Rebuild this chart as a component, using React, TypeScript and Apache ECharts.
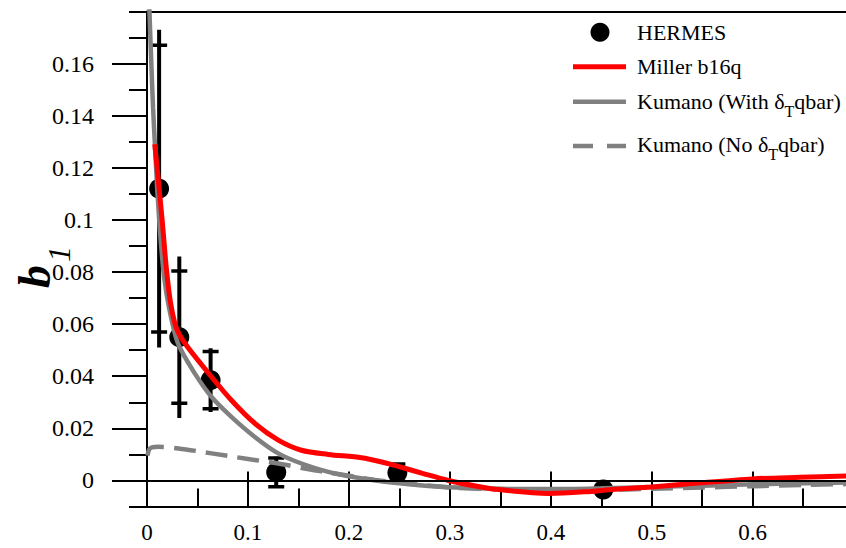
import React, { useEffect, useRef } from 'react';
import * as echarts from 'echarts';

// HERMES data: x, b1, inner (cap) error, total error
const hermesX = [0.012, 0.032, 0.063, 0.128, 0.248, 0.452];
const hermesB1 = [0.112, 0.055, 0.0385, 0.0031, 0.003, -0.0035];
const hermesCapErr = [0.055, 0.0254, 0.011, 0.0055, 0.0033, 0.0015];
const hermesTotalErr = [0.061, 0.031, 0.0122, 0.006, 0.0033, 0.0015];

// Miller b16q
const millerX = [0.0077, 0.01, 0.012, 0.015, 0.019, 0.023, 0.0276, 0.032, 0.0406, 0.0638, 0.0836, 0.1068, 0.13, 0.153, 0.1795, 0.2125, 0.2356, 0.248, 0.273, 0.2985, 0.3267, 0.348, 0.398, 0.44, 0.46, 0.5, 0.54, 0.6, 0.647, 0.6934];
const millerB1 = [0.129, 0.12, 0.112, 0.1, 0.082, 0.069, 0.0602, 0.056, 0.051, 0.0398, 0.0308, 0.0219, 0.0155, 0.0116, 0.01, 0.0087, 0.0068, 0.0055, 0.0027, 0.0, -0.0022, -0.0035, -0.005, -0.0042, -0.0035, -0.0025, -0.0012, 0.0006, 0.0012, 0.0017];

// Kumano (With δT qbar)
const kumanoWithX = [0.002, 0.004, 0.006, 0.0077, 0.01, 0.013, 0.017, 0.022, 0.0307, 0.0473, 0.0638, 0.0836, 0.1068, 0.13, 0.153, 0.1795, 0.2026, 0.2356, 0.27, 0.3, 0.35, 0.4, 0.45, 0.5, 0.55, 0.6, 0.65, 0.6934];
const kumanoWithB1 = [0.185, 0.163, 0.143, 0.13, 0.113, 0.095, 0.078, 0.066, 0.0526, 0.0411, 0.0321, 0.0244, 0.0167, 0.0104, 0.0065, 0.0033, 0.0014, -0.0005, -0.0018, -0.0026, -0.0032, -0.0033, -0.003, -0.0025, -0.002, -0.0015, -0.0011, -0.0008];

// Kumano (No δT qbar)
const kumanoNoX = [0.0005, 0.002, 0.005, 0.011, 0.031, 0.064, 0.097, 0.13, 0.156, 0.176, 0.2, 0.23, 0.26, 0.3, 0.35, 0.4, 0.45, 0.5, 0.55, 0.6, 0.65, 0.6934];
const kumanoNoB1 = [0.0095, 0.0118, 0.0127, 0.0129, 0.0123, 0.0104, 0.0084, 0.0065, 0.0046, 0.0033, 0.0018, 0.0, -0.0013, -0.0027, -0.0034, -0.0036, -0.0036, -0.0032, -0.0027, -0.0022, -0.0017, -0.0014];

const yMajorTicks = [0, 0.02, 0.04, 0.06, 0.08, 0.1, 0.12, 0.14, 0.16];
const xMax = 0.6934;
const yMin = -0.01;
const yMax = 0.18;

const FONT = 'Liberation Serif';
const GRAY = '#808080';
const RED = '#ff0000';

function textWidth(txt: string, size: number): number {
  const c = document.createElement('canvas').getContext('2d');
  if (!c) return txt.length * size * 0.5;
  c.font = `${size}px "Liberation Serif"`;
  return c.measureText(txt).width;
}

export default function App() {
  const ref = useRef<HTMLDivElement>(null);
  useEffect(() => {
    if (!ref.current) return;
    const chart = echarts.init(ref.current, null, { renderer: 'svg' });

    const zip = (xs: number[], ys: number[]) => xs.map((x, i) => [x, ys[i]]);
    const errData = hermesX.map((x, i) => [x, hermesB1[i], hermesCapErr[i], hermesTotalErr[i]]);

    const lx = 637;
    const w1 = textWidth('Kumano (With δ', 22);
    const w2 = textWidth('Kumano (No δ', 22);
    const wT = textWidth('T', 16);
    const txt = (text: string, x: number, y: number, size = 22) => ({
      type: 'text', x, y, silent: true,
      style: { text, fill: '#000', fontSize: size, fontFamily: FONT, verticalAlign: 'middle', align: 'left' },
    });

    const option: any = {
      animation: false,
      textStyle: { fontFamily: FONT, fontSize: 22, color: '#000' },
      grid: { left: 147, top: 11.5, width: 700, height: 495, outerBoundsMode: 'none', containLabel: false },
      xAxis: [
        {
          type: 'value', min: 0, max: xMax, interval: 0.1, position: 'bottom',
          axisLine: { show: true, onZero: false, lineStyle: { color: '#000', width: 2 } },
          axisTick: { show: true, inside: true, length: 35, lineStyle: { color: '#000', width: 2 } },
          axisLabel: {
            show: true, margin: 14, fontSize: 23, fontFamily: FONT, color: '#000', showMaxLabel: false,
            formatter: (v: number) => (Math.abs(v * 10 - Math.round(v * 10)) < 1e-6 ? String(parseFloat(v.toFixed(1))) : ''),
          },
          splitLine: { show: false },
        },
        {
          type: 'value', min: 0, max: xMax, interval: 0.05, position: 'bottom', offset: 0,
          axisLine: { show: false, onZero: false },
          axisTick: { show: true, inside: true, length: 18, lineStyle: { color: '#000', width: 2 } },
          axisLabel: { show: false },
          splitLine: { show: false },
        },
        {
          type: 'value', min: 0, max: xMax, position: 'top', offset: 0,
          axisLine: { show: true, onZero: false, lineStyle: { color: '#000', width: 2 } },
          axisTick: { show: false },
          axisLabel: { show: false },
          splitLine: { show: false },
        },
      ],
      yAxis: [
        {
          type: 'value', min: yMin, max: yMax, interval: 0.01, position: 'left', offset: 0,
          axisLine: { show: true, onZero: false, lineStyle: { color: '#000', width: 2 } },
          axisTick: { show: true, length: 35, customValues: yMajorTicks, lineStyle: { color: '#000', width: 2 } },
          axisLabel: {
            show: true, margin: 53, fontSize: 24, fontFamily: FONT, color: '#000',
            showMinLabel: true, showMaxLabel: true, hideOverlap: false,
            formatter: (v: number) => {
              const k = Math.round(v * 100);
              if (k < 0 || k > 16 || k % 2 !== 0) return '';
              return String(parseFloat(v.toFixed(2)));
            },
          },
          splitLine: { show: false },
        },
        {
          type: 'value', min: yMin, max: yMax, interval: 0.01, position: 'left', offset: 0,
          axisLine: { show: false, onZero: false },
          axisTick: { show: true, length: 18, lineStyle: { color: '#000', width: 2 } },
          axisLabel: { show: false },
          splitLine: { show: false },
        },
      ],
      series: [
        {
          name: 'Kumano (With δTqbar)', type: 'line', data: zip(kumanoWithX, kumanoWithB1),
          showSymbol: false, symbol: 'none', smooth: 0.3, clip: true,
          lineStyle: { color: GRAY, width: 4.5 },
          markLine: {
            silent: true, symbol: ['none', 'none'], label: { show: false },
            lineStyle: { color: '#000', width: 2, type: 'solid' },
            data: [{ yAxis: 0 }],
          },
        },
        {
          name: 'Kumano (No δTqbar)', type: 'line', data: zip(kumanoNoX, kumanoNoB1),
          showSymbol: false, symbol: 'none', smooth: 0.3, clip: true,
          lineStyle: { color: GRAY, width: 4.5, type: [22, 10] },
        },
        {
          name: 'Miller b16q', type: 'line', data: zip(millerX, millerB1),
          showSymbol: false, symbol: 'none', smooth: 0.3, clip: true,
          lineStyle: { color: RED, width: 5 },
        },
        {
          name: 'HERMES errors', type: 'custom', data: errData, clip: true,
          encode: { x: 0, y: 1 },
          renderItem: (params: any, api: any) => {
            const x = api.value(0), y = api.value(1), ci = api.value(2), t = api.value(3);
            const top = api.coord([x, y + t]);
            const bot = api.coord([x, y - t]);
            const ct = api.coord([x, y + ci]);
            const cb = api.coord([x, y - ci]);
            const st = { stroke: '#000', lineWidth: 4 };
            const cs = { stroke: '#000', lineWidth: 3.5 };
            return {
              type: 'group',
              children: [
                { type: 'line', shape: { x1: top[0], y1: top[1], x2: bot[0], y2: bot[1] }, style: st },
                { type: 'line', shape: { x1: ct[0] - 8, y1: ct[1], x2: ct[0] + 8, y2: ct[1] }, style: cs },
                { type: 'line', shape: { x1: cb[0] - 8, y1: cb[1], x2: cb[0] + 8, y2: cb[1] }, style: cs },
              ],
            };
          },
        },
        {
          name: 'HERMES', type: 'scatter', data: zip(hermesX, hermesB1),
          symbol: 'circle', symbolSize: 20, itemStyle: { color: '#000', opacity: 1 },
        },
      ],
      graphic: [
        { type: 'circle', shape: { cx: 600, cy: 32.3, r: 9.5 }, style: { fill: '#000' }, silent: true },
        txt('HERMES', lx, 32),
        { type: 'line', shape: { x1: 573, y1: 66.7, x2: 626, y2: 66.7 }, style: { stroke: RED, lineWidth: 5 }, silent: true },
        txt('Miller b16q', lx, 66),
        { type: 'line', shape: { x1: 573, y1: 101.7, x2: 626, y2: 101.7 }, style: { stroke: GRAY, lineWidth: 4.5 }, silent: true },
        txt('Kumano (With δ', lx, 101),
        txt('T', lx + w1, 111, 16),
        txt('qbar)', lx + w1 + wT, 101),
        { type: 'line', shape: { x1: 573, y1: 146, x2: 626, y2: 146 }, style: { stroke: GRAY, lineWidth: 4.5, lineDash: [20, 14] }, silent: true },
        txt('Kumano (No δ', lx, 144),
        txt('T', lx + w2, 154, 16),
        txt('qbar)', lx + w2 + wT, 144),
        {
          type: 'group', x: 34, y: 288, rotation: Math.PI / 2, silent: true,
          children: [
            { type: 'text', x: 0, y: 0, style: { text: 'b', fill: '#000', fontSize: 46, fontWeight: 'bold', fontStyle: 'italic', fontFamily: FONT, verticalAlign: 'middle', align: 'left' } },
            { type: 'text', x: 26, y: 25, style: { text: '1', fill: '#000', fontSize: 32, fontStyle: 'italic', fontFamily: FONT, verticalAlign: 'middle', align: 'left' } },
          ],
        },
      ],
    };
    chart.setOption(option);
    return () => chart.dispose();
  }, []);
  return <div ref={ref} style={{ position: 'fixed', left: 0, top: 0, width: 846, height: 548, background: '#fff' }} />;
}
